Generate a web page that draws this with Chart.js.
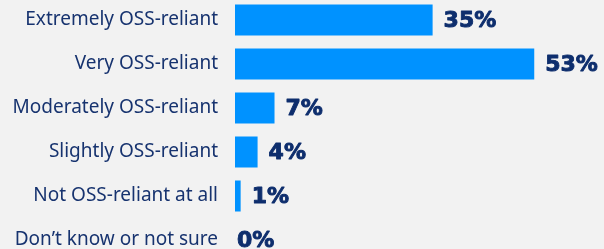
<!DOCTYPE html>
<html>
<head>
  <title>OSS reliance</title>
  <script src="https://cdn.jsdelivr.net/npm/chart.js@4.4.1/dist/chart.umd.min.js"></script>
  <style>
    html, body { margin: 0; padding: 0; background: #f2f2f2; overflow: hidden; }
    #chart { position: absolute; left: 0; top: -2px; }
  </style>
</head>
<body>
  <canvas id="chart" width="604" height="264"></canvas>
  <script>
    // Survey answers and their shares (%)
    var categories = [
      "Extremely OSS-reliant",
      "Very OSS-reliant",
      "Moderately OSS-reliant",
      "Slightly OSS-reliant",
      "Not OSS-reliant at all",
      "Don\u2019t know or not sure"
    ];
    var shares = [35, 53, 7, 4, 1, 0];

    var navy = "#0e2e6d";

    // Draw the heavy percentage next to each bar
    var valueLabels = {
      id: "valueLabels",
      afterDatasetsDraw: function (chart) {
        var ctx = chart.ctx;
        var meta = chart.getDatasetMeta(0);
        ctx.save();
        ctx.font = "bold 22px 'DejaVu Sans'";
        ctx.fillStyle = navy;
        ctx.strokeStyle = navy;
        ctx.lineWidth = 0.9;
        ctx.lineJoin = "round";
        ctx.textAlign = "left";
        ctx.textBaseline = "middle";
        meta.data.forEach(function (bar, i) {
          var v = shares[i];
          var gap = v > 0 ? 11 : 2;
          ctx.fillText(v + "%", bar.x + gap, bar.y + 1);
          ctx.strokeText(v + "%", bar.x + gap, bar.y + 1);
        });
        ctx.restore();
      }
    };

    var ctx = document.getElementById("chart").getContext("2d");
    var chart = new Chart(ctx, {
      type: "bar",
      data: {
        labels: categories,
        datasets: [{
          data: shares,
          backgroundColor: "#0092ff",
          borderWidth: 0,
          inflateAmount: 0,
          barThickness: 31
        }]
      },
      options: {
        indexAxis: "y",
        responsive: false,
        animation: false,
        layout: { padding: { left: 0, right: 2, top: 0, bottom: 0 } },
        plugins: { legend: { display: false }, tooltip: { enabled: false } },
        scales: {
          x: { display: false, min: 0, max: 65 },
          y: {
            grid: { display: false, drawTicks: false },
            border: { display: false },
            ticks: {
              padding: 17,
              color: "#17336f",
              font: { family: "'Noto Sans'", size: 19 }
            },
            afterFit: function (scale) {
              // let the rows fill the whole height
              scale.width = 235;
              scale.paddingTop = 0;
              scale.paddingBottom = 0;
            }
          }
        }
      },
      plugins: [valueLabels]
    });
  </script>
</body>
</html>
